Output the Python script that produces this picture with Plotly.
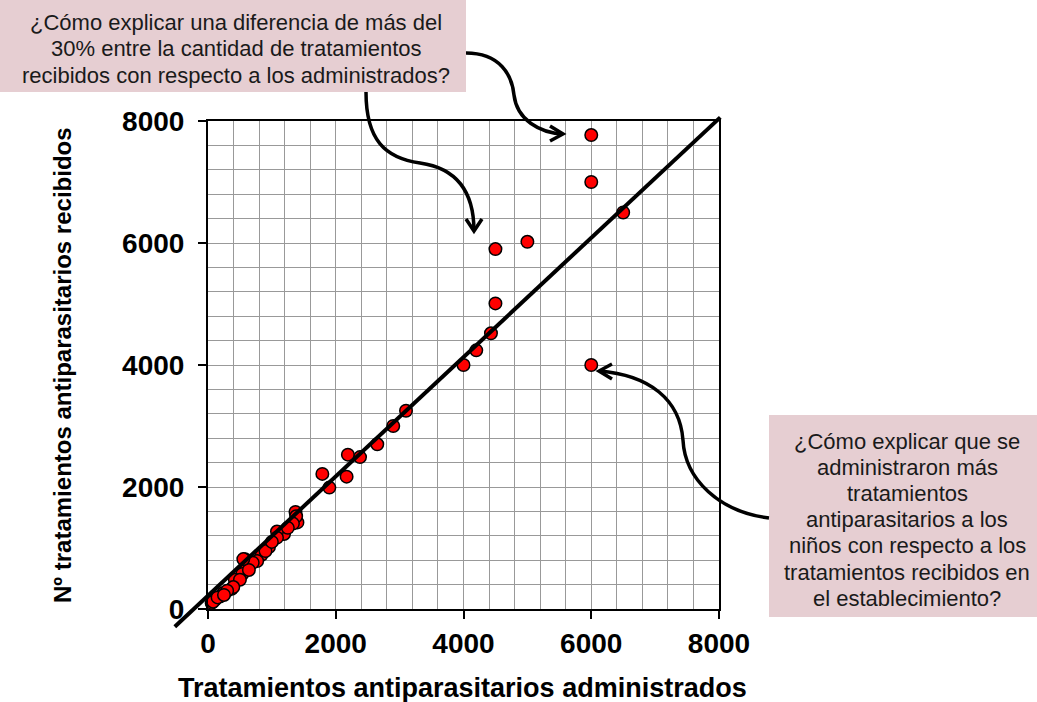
import plotly.graph_objects as go

# Treatments administered (x) vs. treatments received (y), one point per establishment
administrados = [7800, 6000, 6000, 6500, 4500, 5000, 4500, 4430, 4200, 4000, 6000,
                 3100, 2900, 2650, 2380, 2190, 2170, 1790, 1900,
                 1370, 1400, 1380, 1330, 1190, 1080, 1080, 955, 840, 770, 580, 660,
                 605, 537, 420, 500, 371, 396, 240, 188, 110, 57, 80, 150, 300, 700,
                 900, 1000, 1250, 250, 640, 553]
recibidos = [8020, 7770, 7000, 6500, 5900, 6020, 5010, 4520, 4240, 4000, 4000,
             3250, 3000, 2700, 2490, 2530, 2170, 2215, 1990,
             1590, 1420, 1520, 1400, 1230, 1270, 1170, 1015, 890, 785, 815, 725,
             670, 575, 480, 480, 330, 360, 262, 206, 150, 100, 120, 190, 300, 760,
             950, 1100, 1330, 230, 640, 818]

# Reference line (data units)
linea_x = [-520, 8020]
linea_y = [-290, 8060]

axis_range = [0, 8000]
tick_vals = [0, 2000, 4000, 6000, 8000]

nota_superior = ["¿Cómo explicar una diferencia de más del",
                 "30% entre la cantidad de tratamientos",
                 "recibidos con respecto a los administrados?"]
nota_derecha = ["¿Cómo explicar que se",
                "administraron más",
                "tratamientos",
                "antiparasitarios a los",
                "niños con respecto a los",
                "tratamientos recibidos en",
                "el establecimiento?"]

W, H = 1037, 702
ML, MR, MT, MB = 208, 318, 121, 93
PW, PH = W - ML - MR, H - MT - MB

FONT = "Arial, Liberation Sans, sans-serif"


def px(p):
    return (p - ML) / PW


def py(p):
    return (H - MB - p) / PH


def path(cmds):
    out = []
    for c in cmds:
        op, pts = c[0], c[1:]
        out.append(op + " " + " ".join(f"{px(a):.4f},{py(b):.4f}" for a, b in pts))
    return " ".join(out)


fig = go.Figure()
fig.add_trace(go.Scatter(
    x=administrados, y=recibidos, mode="markers", cliponaxis=False,
    marker=dict(size=12.5, color="#ff0000", line=dict(color="black", width=1.5)),
    showlegend=False, hoverinfo="x+y",
))

shapes = []
# reference line, in axis-domain units so it can run past the frame
span = axis_range[1] - axis_range[0]
shapes.append(dict(
    type="line", xref="x domain", yref="y domain", layer="above",
    x0=(linea_x[0] - axis_range[0]) / span, x1=(linea_x[1] - axis_range[0]) / span,
    y0=(linea_y[0] - axis_range[0]) / span, y1=(linea_y[1] - axis_range[0]) / span,
    line=dict(color="black", width=4),
))

BOX = "#e6ced2"
# callout boxes
shapes.append(dict(type="rect", xref="paper", yref="paper", layer="above",
                   x0=px(0), x1=px(466), y0=py(92), y1=py(0),
                   fillcolor=BOX, line=dict(width=0)))
shapes.append(dict(type="rect", xref="paper", yref="paper", layer="above",
                   x0=px(769), x1=px(1037), y0=py(617), y1=py(415),
                   fillcolor=BOX, line=dict(width=0)))

# curved arrows
arrow_line = dict(color="black", width=3.5)
curves = [
    [("M", (466, 53)), ("C", (500, 53), (512, 75), (514, 95)),
     ("C", (517, 120), (540, 133), (563, 134))],
    [("M", (550, 126)), ("L", (563, 134)), ("L", (550, 141))],
    [("M", (366, 92)), ("C", (366, 140), (385, 158), (420, 163)),
     ("C", (455, 168), (474, 190), (474, 231))],
    [("M", (466, 219)), ("L", (474, 231)), ("L", (482, 219))],
    [("M", (769, 518)), ("C", (720, 512), (685, 480), (683, 440)),
     ("C", (680, 400), (650, 375), (599, 371))],
    [("M", (612, 364)), ("L", (599, 371)), ("L", (612, 379))],
]
for c in curves:
    shapes.append(dict(type="path", xref="paper", yref="paper", layer="above",
                       path=path(c), line=arrow_line))

annotations = []
note_font = dict(family=FONT, size=22, color="#1a1a1a")
for i, line in enumerate(nota_superior):
    annotations.append(dict(text=line, x=px(236), y=py(22 + 26.6 * i),
                            xref="paper", yref="paper", showarrow=False,
                            xanchor="center", yanchor="middle", font=note_font))
for i, line in enumerate(nota_derecha):
    annotations.append(dict(text=line, x=px(907), y=py(441 + 26.2 * i),
                            xref="paper", yref="paper", showarrow=False,
                            xanchor="center", yanchor="middle", font=note_font))

annotations += [
    dict(text="<b>Tratamientos antiparasitarios administrados</b>",
         x=px(462), y=py(688), xref="paper", yref="paper", showarrow=False,
         xanchor="center", yanchor="middle",
         font=dict(family=FONT, size=27, color="black")),
    dict(text="<b>Nº tratamientos antiparasitarios recibidos</b>",
         x=px(62), y=0.5, xref="paper", yref="paper", showarrow=False,
         xanchor="center", yanchor="middle", textangle=-90,
         font=dict(family=FONT, size=24, color="black")),
]

GRID = "#999999"
axis_common = dict(
    range=axis_range, tickvals=tick_vals, ticktext=[str(v) for v in tick_vals],
    showline=True, linecolor="black", linewidth=2, mirror=True,
    ticks="outside", ticklen=8, tickwidth=2, tickcolor="black",
    showgrid=True, gridcolor=GRID, gridwidth=1.3, zeroline=False,
    minor=dict(dtick=400, tick0=0, showgrid=True, gridcolor=GRID, gridwidth=1.3, ticks=""),
    tickfont=dict(family=FONT, size=28, color="black", weight="bold"),
    fixedrange=True,
)

fig.update_layout(
    width=W, height=H,
    margin=dict(l=ML, r=MR, t=MT, b=MB, pad=0),
    paper_bgcolor="white", plot_bgcolor="white",
    xaxis=dict(axis_common, ticklabelstandoff=0),
    yaxis=dict(axis_common, ticklabelstandoff=8),
    shapes=shapes, annotations=annotations,
    showlegend=False,
)

fig.write_html("out.html")
